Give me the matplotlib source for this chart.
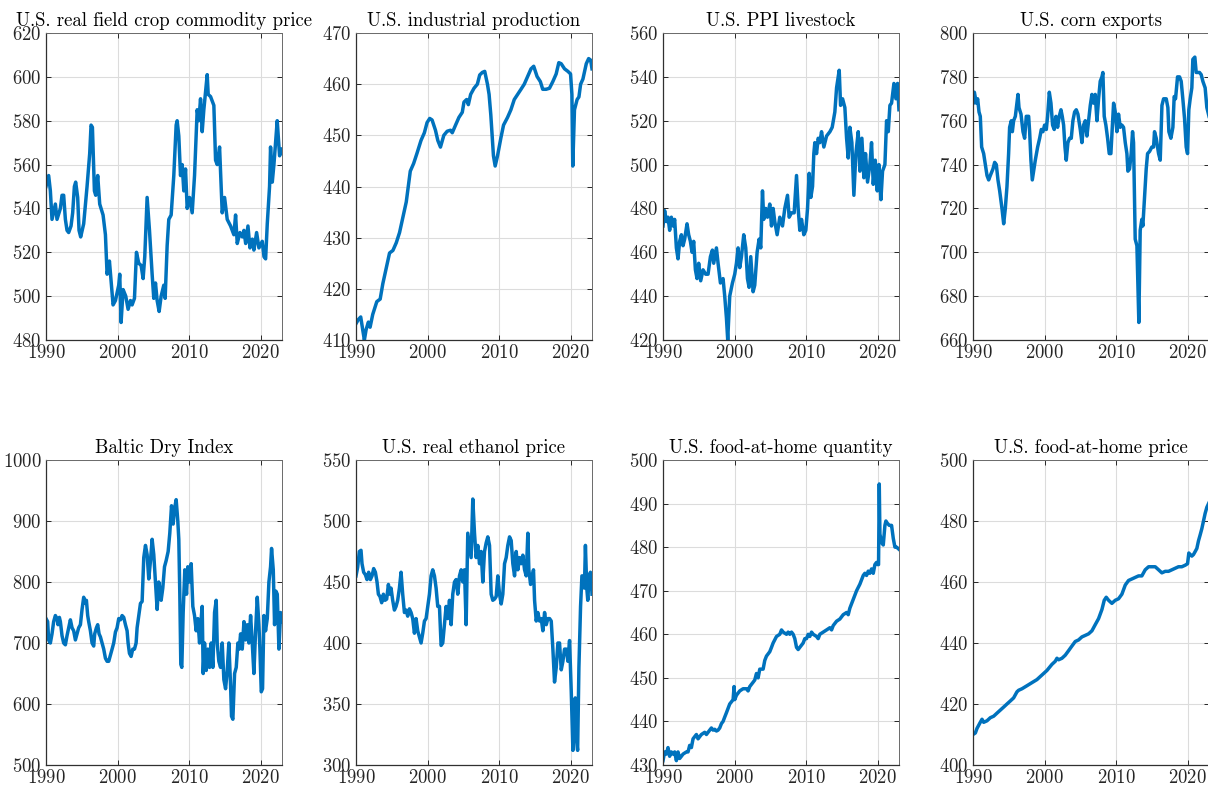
import matplotlib
matplotlib.use("Agg")
import matplotlib.pyplot as plt
import numpy as np

plt.rcParams["font.family"] = ["cmr10", "DejaVu Serif"]
plt.rcParams["axes.formatter.use_mathtext"] = True
plt.rcParams["mathtext.fontset"] = "cm"

# ---- data: (decimal year, index level) ----
crop_price = [
    (1990.0, 550), (1990.37, 555), (1990.61, 548), (1990.84, 535), (1991.31, 542), (1991.54, 535),
    (1992.01, 540), (1992.24, 546), (1992.47, 546), (1992.71, 535), (1992.94, 530), (1993.17, 529),
    (1993.50, 532), (1993.73, 538), (1993.97, 550), (1994.15, 552), (1994.43, 545), (1994.62, 530),
    (1994.85, 527), (1995.27, 533), (1995.74, 550), (1996.11, 565), (1996.30, 578), (1996.49, 577),
    (1996.77, 548), (1996.95, 546), (1997.23, 555), (1997.51, 542), (1997.98, 537), (1998.31, 528),
    (1998.54, 510), (1998.87, 516), (1999.15, 505), (1999.38, 496), (1999.71, 498), (2000.17, 505),
    (2000.31, 510), (2000.50, 488), (2000.78, 503), (2001.15, 500), (2001.48, 494), (2001.81, 498),
    (2002.04, 496), (2002.37, 499), (2002.65, 520), (2002.97, 515), (2003.30, 514), (2003.58, 508),
    (2003.81, 518), (2004.14, 545), (2004.47, 530), (2004.84, 510), (2005.07, 499), (2005.31, 506),
    (2005.54, 498), (2005.82, 493), (2006.10, 500), (2006.47, 505), (2006.66, 499), (2006.94, 523),
    (2007.17, 535), (2007.50, 537), (2007.87, 555), (2008.20, 578), (2008.34, 580), (2008.57, 573),
    (2008.81, 555), (2009.04, 560), (2009.27, 548), (2009.51, 558), (2009.74, 540), (2010.07, 545),
    (2010.44, 538), (2010.77, 555), (2011.14, 585), (2011.37, 580), (2011.61, 590), (2011.84, 575),
    (2012.07, 585), (2012.54, 601), (2012.68, 592), (2013.01, 591), (2013.47, 587), (2013.71, 562),
    (2013.94, 560), (2014.27, 568), (2014.64, 538), (2014.97, 545), (2015.34, 535), (2015.81, 532),
    (2016.27, 528), (2016.51, 537), (2016.74, 524), (2017.12, 529), (2017.45, 527), (2017.68, 530),
    (2017.92, 524), (2018.24, 532), (2018.52, 522), (2018.85, 526), (2019.07, 521), (2019.45, 529),
    (2019.77, 522), (2020.24, 525), (2020.48, 518), (2020.71, 517), (2020.94, 533), (2021.26, 550),
    (2021.40, 568), (2021.64, 552), (2021.87, 560), (2022.10, 570), (2022.33, 580), (2022.66, 564),
    (2023.0, 567),
]

industrial = [
    (1990.0, 413.2), (1990.33, 414), (1990.66, 414.5), (1990.94, 412), (1991.17, 410), (1991.41, 412),
    (1991.73, 413.5), (1991.97, 412.5), (1992.34, 415), (1992.91, 417.5), (1993.38, 418), (1993.75, 421),
    (1994.22, 424), (1994.69, 427), (1995.16, 427.5), (1995.63, 429), (1996.09, 431), (1996.56, 434),
    (1997.03, 437), (1997.59, 443), (1998.06, 444.5), (1998.53, 446.5), (1999.09, 449), (1999.56, 450.5),
    (1999.94, 452.5), (2000.31, 453.3), (2000.64, 453), (2001.11, 451), (2001.44, 449), (2001.81, 447.7),
    (2002.28, 450), (2002.75, 450.8), (2003.22, 451), (2003.46, 450.5), (2003.92, 452), (2004.39, 453.5),
    (2004.86, 454.5), (2005.10, 456.5), (2005.47, 457), (2005.71, 456), (2006.03, 458), (2006.50, 459.2),
    (2006.97, 460), (2007.30, 461.8), (2007.67, 462.3), (2008.00, 462.5), (2008.38, 460), (2008.61, 458),
    (2008.85, 454), (2009.22, 446), (2009.46, 444), (2009.79, 446), (2010.26, 449.5), (2010.63, 452),
    (2011.19, 453.5), (2011.66, 455), (2012.13, 457), (2012.60, 458), (2013.07, 459), (2013.53, 460),
    (2014.00, 461.5), (2014.47, 463), (2014.85, 463.5), (2015.32, 461.5), (2015.78, 460.5), (2016.11, 459),
    (2016.58, 459), (2017.05, 459.2), (2017.52, 460.5), (2017.99, 462), (2018.36, 464.2), (2018.69, 464),
    (2019.16, 463), (2019.63, 462.5), (2020.00, 462), (2020.19, 458), (2020.31, 444), (2020.55, 455),
    (2020.92, 457), (2021.17, 457.5), (2021.41, 460), (2021.73, 461), (2022.20, 464), (2022.53, 465),
    (2022.81, 464.7), (2023.0, 463),
]

ppi_livestock = [
    (1990.0, 472), (1990.23, 479), (1990.47, 474), (1990.70, 476), (1990.93, 470), (1991.17, 476),
    (1991.40, 472), (1991.63, 475), (1991.87, 462), (1992.10, 457), (1992.33, 465), (1992.57, 468),
    (1992.80, 463), (1993.03, 466), (1993.36, 473), (1993.59, 468), (1993.83, 465), (1994.06, 460),
    (1994.29, 465), (1994.53, 452), (1994.76, 448), (1994.99, 455), (1995.27, 447), (1995.60, 452),
    (1995.97, 450), (1996.30, 450), (1996.63, 458), (1996.91, 461), (1997.09, 455), (1997.47, 462),
    (1997.70, 455), (1998.03, 446), (1998.40, 448), (1998.63, 440), (1998.87, 430), (1999.05, 420),
    (1999.33, 440), (1999.71, 446), (2000.03, 450), (2000.27, 455), (2000.50, 462), (2000.73, 453),
    (2000.97, 458), (2001.29, 468), (2001.57, 462), (2001.81, 448), (2002.04, 444), (2002.27, 458),
    (2002.60, 442), (2002.83, 445), (2003.16, 460), (2003.44, 466), (2003.67, 462), (2003.91, 488),
    (2004.09, 475), (2004.37, 480), (2004.61, 476), (2004.93, 482), (2005.17, 472), (2005.40, 480),
    (2005.63, 474), (2005.96, 468), (2006.33, 476), (2006.71, 472), (2007.03, 480), (2007.41, 486),
    (2007.64, 476), (2007.97, 478), (2008.34, 478), (2008.67, 495), (2008.90, 480), (2009.13, 470),
    (2009.37, 475), (2009.69, 468), (2009.97, 470), (2010.21, 480), (2010.44, 496), (2010.67, 485),
    (2010.91, 490), (2011.09, 505), (2011.23, 510), (2011.47, 505), (2011.70, 512), (2011.93, 510),
    (2012.17, 515), (2012.49, 508), (2012.87, 513), (2013.34, 515), (2013.66, 517), (2014.03, 524),
    (2014.27, 535), (2014.50, 540), (2014.64, 543), (2014.83, 527), (2015.11, 530), (2015.43, 526),
    (2015.67, 512), (2015.90, 503), (2016.13, 517), (2016.41, 510), (2016.69, 486), (2016.97, 505),
    (2017.30, 515), (2017.53, 497), (2017.81, 512), (2018.09, 494), (2018.32, 505), (2018.60, 492),
    (2018.93, 500), (2019.16, 510), (2019.40, 491), (2019.68, 502), (2019.96, 488), (2020.19, 500),
    (2020.47, 484), (2020.70, 497), (2021.03, 500), (2021.26, 520), (2021.50, 515), (2021.73, 527),
    (2021.96, 528), (2022.29, 537), (2022.57, 530), (2022.80, 537), (2022.99, 525),
]

corn_exports = [
    (1990.0, 768), (1990.19, 773), (1990.47, 768), (1990.65, 770), (1990.84, 764), (1991.02, 762),
    (1991.21, 748), (1991.49, 745), (1991.72, 740), (1991.96, 735), (1992.19, 733), (1992.42, 735),
    (1992.79, 738), (1993.03, 741), (1993.26, 740), (1993.49, 733), (1993.73, 728), (1994.05, 720),
    (1994.29, 713), (1994.52, 720), (1994.75, 730), (1994.98, 745), (1995.12, 757), (1995.36, 760),
    (1995.50, 755), (1995.68, 760), (1995.92, 762), (1996.15, 768), (1996.29, 772), (1996.43, 766),
    (1996.71, 763), (1996.99, 755), (1997.22, 752), (1997.45, 762), (1997.78, 762), (1997.92, 755),
    (1998.10, 742), (1998.29, 733), (1998.48, 737), (1998.71, 742), (1999.04, 748), (1999.32, 752),
    (1999.55, 756), (1999.78, 755), (2000.01, 758), (2000.25, 756), (2000.43, 762), (2000.67, 773),
    (2000.90, 768), (2001.13, 758), (2001.36, 756), (2001.60, 762), (2001.83, 757), (2002.06, 762),
    (2002.30, 765), (2002.48, 762), (2002.67, 758), (2002.86, 748), (2003.04, 742), (2003.27, 750),
    (2003.51, 752), (2003.74, 752), (2003.97, 760), (2004.21, 764), (2004.44, 765), (2004.67, 763),
    (2005.00, 756), (2005.23, 750), (2005.46, 758), (2005.70, 760), (2005.93, 753), (2006.16, 760),
    (2006.40, 767), (2006.63, 772), (2006.86, 768), (2007.09, 772), (2007.33, 760), (2007.56, 770),
    (2007.79, 778), (2008.03, 780), (2008.16, 782), (2008.35, 762), (2008.58, 758), (2008.82, 752),
    (2009.05, 745), (2009.28, 745), (2009.52, 760), (2009.66, 768), (2009.89, 764), (2010.12, 755),
    (2010.35, 763), (2010.59, 757), (2010.82, 758), (2011.05, 757), (2011.29, 750), (2011.52, 745),
    (2011.66, 737), (2011.89, 738), (2012.12, 745), (2012.31, 755), (2012.45, 750), (2012.68, 706),
    (2012.92, 703), (2013.06, 685), (2013.19, 668), (2013.38, 710), (2013.61, 715), (2013.75, 712),
    (2013.99, 725), (2014.22, 738), (2014.41, 745), (2014.69, 746), (2015.01, 748), (2015.25, 748),
    (2015.38, 755), (2015.62, 752), (2015.95, 745), (2016.18, 742), (2016.42, 767), (2016.65, 770),
    (2017.02, 770), (2017.25, 766), (2017.39, 755), (2017.67, 752), (2017.95, 757), (2018.13, 771),
    (2018.32, 770), (2018.60, 780), (2018.88, 780), (2019.11, 778), (2019.34, 770), (2019.58, 761),
    (2019.81, 748), (2020.00, 745), (2020.18, 765), (2020.37, 770), (2020.60, 775), (2020.74, 788),
    (2021.02, 789), (2021.21, 782), (2021.44, 782), (2021.67, 782), (2021.91, 781), (2022.14, 778),
    (2022.46, 775), (2022.70, 766), (2023.0, 762),
]

baltic_dry = [
    (1990.0, 740), (1990.23, 735), (1990.37, 705), (1990.61, 700), (1990.84, 715), (1991.07, 735),
    (1991.31, 745), (1991.54, 740), (1991.68, 730), (1991.87, 742), (1992.01, 735), (1992.24, 712),
    (1992.47, 700), (1992.71, 697), (1992.94, 712), (1993.17, 725), (1993.41, 738), (1993.64, 725),
    (1993.87, 720), (1994.11, 705), (1994.34, 715), (1994.57, 725), (1994.81, 730), (1995.04, 755),
    (1995.27, 775), (1995.51, 765), (1995.65, 770), (1995.83, 745), (1995.97, 735), (1996.21, 720),
    (1996.44, 700), (1996.67, 695), (1996.81, 715), (1997.05, 725), (1997.23, 730), (1997.42, 715),
    (1997.61, 710), (1997.84, 700), (1998.07, 690), (1998.31, 675), (1998.54, 670), (1998.77, 670),
    (1999.01, 680), (1999.24, 690), (1999.47, 700), (1999.71, 718), (1999.94, 725), (2000.17, 740),
    (2000.41, 738), (2000.64, 745), (2000.87, 742), (2001.11, 730), (2001.34, 720), (2001.48, 700),
    (2001.67, 683), (2001.90, 678), (2002.13, 690), (2002.37, 690), (2002.60, 700), (2002.74, 725),
    (2002.97, 745), (2003.21, 765), (2003.44, 768), (2003.67, 840), (2003.91, 860), (2004.14, 845),
    (2004.37, 805), (2004.61, 835), (2004.84, 870), (2005.07, 845), (2005.31, 800), (2005.54, 755),
    (2005.77, 800), (2005.91, 790), (2006.10, 770), (2006.33, 790), (2006.57, 825), (2006.80, 835),
    (2007.08, 850), (2007.31, 880), (2007.55, 925), (2007.78, 895), (2007.97, 920), (2008.20, 935),
    (2008.43, 900), (2008.57, 870), (2008.71, 780), (2008.85, 665), (2008.99, 660), (2009.18, 750),
    (2009.41, 820), (2009.65, 780), (2009.83, 825), (2010.07, 800), (2010.30, 830), (2010.53, 760),
    (2010.77, 745), (2011.00, 720), (2011.23, 740), (2011.47, 700), (2011.70, 740), (2011.84, 760),
    (2011.98, 650), (2012.17, 700), (2012.40, 655), (2012.63, 690), (2012.87, 660), (2013.10, 700),
    (2013.33, 660), (2013.57, 750), (2013.80, 770), (2013.94, 700), (2014.17, 670), (2014.41, 660),
    (2014.64, 700), (2014.87, 640), (2015.11, 625), (2015.34, 655), (2015.57, 700), (2015.81, 630),
    (2015.94, 580), (2016.13, 575), (2016.37, 650), (2016.60, 660), (2016.83, 700), (2017.02, 690),
    (2017.21, 715), (2017.44, 690), (2017.68, 735), (2017.91, 705), (2018.14, 730), (2018.37, 700),
    (2018.61, 745), (2018.84, 700), (2019.07, 650), (2019.31, 720), (2019.54, 775), (2019.77, 730),
    (2019.91, 690), (2020.10, 620), (2020.28, 625), (2020.47, 745), (2020.70, 720), (2020.94, 740),
    (2021.17, 800), (2021.40, 825), (2021.54, 855), (2021.78, 820), (2021.96, 730), (2022.15, 785),
    (2022.34, 780), (2022.57, 690), (2022.80, 750), (2023.0, 735),
]

ethanol_price = [
    (1990.0, 455), (1990.23, 462), (1990.47, 475), (1990.70, 476), (1990.84, 465), (1991.07, 458),
    (1991.31, 456), (1991.54, 452), (1991.77, 458), (1992.01, 452), (1992.24, 455), (1992.47, 461),
    (1992.71, 458), (1992.94, 450), (1993.13, 440), (1993.36, 438), (1993.59, 433), (1993.83, 440),
    (1994.06, 435), (1994.29, 436), (1994.53, 448), (1994.71, 440), (1994.90, 445), (1995.13, 435),
    (1995.37, 427), (1995.60, 430), (1995.83, 435), (1996.07, 445), (1996.30, 458), (1996.53, 440),
    (1996.77, 425), (1997.00, 427), (1997.23, 422), (1997.47, 428), (1997.70, 425), (1997.93, 420),
    (1998.17, 408), (1998.40, 420), (1998.63, 410), (1998.87, 405), (1999.10, 400), (1999.33, 408),
    (1999.57, 418), (1999.80, 420), (2000.03, 430), (2000.27, 440), (2000.50, 455), (2000.73, 460),
    (2000.97, 455), (2001.20, 445), (2001.43, 430), (2001.67, 430), (2001.90, 398), (2002.13, 400),
    (2002.37, 415), (2002.60, 430), (2002.83, 420), (2003.07, 435), (2003.30, 415), (2003.53, 440),
    (2003.77, 450), (2004.00, 452), (2004.23, 440), (2004.47, 455), (2004.70, 460), (2004.93, 450),
    (2005.17, 460), (2005.40, 415), (2005.63, 490), (2005.87, 480), (2006.10, 470), (2006.33, 518),
    (2006.57, 490), (2006.80, 470), (2007.03, 480), (2007.27, 465), (2007.50, 475), (2007.73, 450),
    (2007.97, 475), (2008.20, 482), (2008.43, 487), (2008.67, 480), (2008.90, 440), (2009.13, 435),
    (2009.37, 436), (2009.60, 438), (2009.83, 455), (2010.07, 440), (2010.30, 432), (2010.53, 440),
    (2010.77, 465), (2011.00, 470), (2011.23, 480), (2011.47, 487), (2011.70, 484), (2011.93, 465),
    (2012.17, 455), (2012.40, 475), (2012.63, 460), (2012.87, 470), (2013.10, 465), (2013.33, 472),
    (2013.57, 460), (2013.80, 455), (2014.03, 490), (2014.17, 460), (2014.41, 448), (2014.64, 455),
    (2014.82, 460), (2014.97, 435), (2015.20, 418), (2015.43, 425), (2015.67, 418), (2015.90, 420),
    (2016.13, 410), (2016.37, 425), (2016.60, 415), (2016.83, 420), (2017.07, 420), (2017.30, 418),
    (2017.53, 395), (2017.76, 368), (2018.00, 380), (2018.23, 400), (2018.46, 400), (2018.70, 378),
    (2018.93, 385), (2019.16, 395), (2019.40, 395), (2019.63, 385), (2019.86, 402), (2020.10, 360),
    (2020.33, 312), (2020.47, 350), (2020.66, 355), (2020.84, 320), (2020.99, 312), (2021.17, 380),
    (2021.40, 430), (2021.59, 455), (2021.80, 455), (2021.94, 445), (2022.08, 480), (2022.27, 445),
    (2022.41, 435), (2022.60, 455), (2022.78, 458), (2022.92, 450), (2023.0, 440),
]

food_quantity = [
    (1990.0, 431), (1990.23, 433), (1990.47, 432.5), (1990.70, 434), (1990.93, 432), (1991.17, 433),
    (1991.40, 432.5), (1991.63, 433), (1991.87, 431), (1992.10, 433), (1992.33, 431.5), (1992.57, 432),
    (1992.80, 432.5), (1993.27, 433), (1993.50, 433), (1993.73, 434.5), (1993.97, 434), (1994.20, 436),
    (1994.43, 436.5), (1994.67, 437), (1994.90, 436), (1995.13, 436.5), (1995.37, 437), (1995.83, 437.5),
    (1996.07, 437), (1996.53, 438), (1996.77, 438.5), (1997.00, 438), (1997.23, 438.2), (1997.47, 437.8),
    (1997.70, 438), (1997.93, 438.5), (1998.17, 439.5), (1998.40, 440), (1998.63, 441), (1998.87, 442),
    (1999.10, 443), (1999.33, 444), (1999.57, 444.5), (1999.80, 445), (1999.94, 448), (2000.03, 445),
    (2000.27, 446), (2000.50, 446.5), (2000.73, 447), (2001.20, 447.5), (2001.67, 447.5), (2001.90, 447),
    (2002.13, 448), (2002.60, 449), (2002.83, 449.5), (2003.07, 451), (2003.30, 450), (2003.53, 452),
    (2004.00, 452), (2004.23, 454), (2004.47, 455), (2004.93, 456), (2005.17, 457), (2005.40, 458),
    (2005.87, 459.5), (2006.33, 460), (2006.57, 461), (2006.80, 460.5), (2007.27, 460), (2007.50, 460.5),
    (2007.73, 460), (2007.97, 460.5), (2008.20, 460), (2008.43, 459), (2008.67, 457), (2008.90, 456.5),
    (2009.13, 457), (2009.60, 458), (2009.83, 459), (2010.07, 459), (2010.30, 460), (2010.53, 459.5),
    (2010.77, 460.5), (2011.00, 460), (2011.47, 459.5), (2011.70, 459), (2011.93, 460), (2012.40, 460.5),
    (2012.87, 461), (2013.33, 461.5), (2013.57, 461), (2013.80, 462), (2014.27, 463), (2014.73, 463.5),
    (2015.20, 464.5), (2015.67, 465), (2015.90, 464.5), (2016.13, 466), (2016.60, 468), (2017.07, 470),
    (2017.53, 471.5), (2018.00, 473.5), (2018.23, 474), (2018.46, 473.5), (2018.70, 474.5), (2018.93, 474),
    (2019.16, 475), (2019.40, 474), (2019.63, 476), (2019.86, 476.5), (2020.00, 476), (2020.14, 476),
    (2020.24, 494.5), (2020.33, 483), (2020.57, 481), (2020.80, 480.5), (2021.03, 485), (2021.17, 486),
    (2021.36, 485.5), (2021.64, 485), (2021.96, 485), (2022.20, 482), (2022.43, 480), (2022.66, 480),
    (2023.0, 479.5),
]

food_price = [
    (1990.0, 410), (1990.33, 410.5), (1990.56, 412), (1991.02, 414), (1991.26, 415), (1991.49, 414),
    (1991.96, 414.5), (1992.42, 415.5), (1992.89, 416), (1993.35, 417), (1993.82, 418), (1994.29, 419),
    (1994.75, 420), (1995.22, 421), (1995.68, 422), (1996.15, 424), (1996.38, 424.5), (1996.85, 425),
    (1997.55, 426), (1998.24, 427), (1998.94, 428), (1999.64, 429.5), (2000.34, 431), (2001.04, 433),
    (2001.50, 434), (2001.74, 435), (2001.97, 434.5), (2002.44, 435), (2002.90, 436), (2003.37, 437.5),
    (2003.83, 439), (2004.30, 440.5), (2004.76, 441), (2005.23, 442), (2005.70, 442.5), (2006.16, 443),
    (2006.63, 444), (2007.09, 446), (2007.56, 448), (2008.03, 451), (2008.35, 454), (2008.63, 455),
    (2008.96, 454), (2009.42, 453), (2009.89, 454), (2010.35, 454.5), (2010.82, 456), (2011.29, 459),
    (2011.75, 460.5), (2012.22, 461), (2012.68, 461.5), (2013.15, 462), (2013.61, 462), (2014.08, 464),
    (2014.55, 465), (2015.01, 465), (2015.48, 465), (2015.95, 464), (2016.41, 463), (2016.88, 463.5),
    (2017.34, 463.5), (2017.81, 464), (2018.27, 464.5), (2018.74, 465), (2019.20, 465), (2019.67, 465.5),
    (2020.00, 466), (2020.18, 469.5), (2020.37, 469), (2020.60, 468.5), (2020.83, 469), (2021.07, 470),
    (2021.30, 471), (2021.53, 473.5), (2021.77, 475.5), (2022.00, 477.5), (2022.23, 480), (2022.46, 482.5),
    (2022.70, 484.5), (2023.0, 486),
]

titles = [
    "U.S. real field crop commodity price", "U.S. industrial production",
    "U.S. PPI livestock", "U.S. corn exports",
    "Baltic Dry Index", "U.S. real ethanol price",
    "U.S. food-at-home quantity", "U.S. food-at-home price",
]
series = [crop_price, industrial, ppi_livestock, corn_exports,
          baltic_dry, ethanol_price, food_quantity, food_price]
y_limits = [(480, 620), (410, 470), (420, 560), (660, 800),
            (500, 1000), (300, 550), (430, 500), (400, 500)]
y_steps = [20, 10, 20, 20, 100, 50, 10, 20]
x_ticks = [1990, 2000, 2010, 2020]

line_color = "#0072BD"
text_color = "#262626"

fig = plt.figure(figsize=(12.08, 7.87), dpi=100)

W, H = 1208.0, 787.0
col_left = [46, 356, 663, 973]
ax_w = 236
rows = [(33, 340), (460, 765)]

for i, (title, data) in enumerate(zip(titles, series)):
    r, c = divmod(i, 4)
    top, bottom = rows[r]
    ax = fig.add_axes([col_left[c] / W, 1 - bottom / H, ax_w / W, (bottom - top) / H])
    t = [p[0] for p in data]
    v = [p[1] for p in data]
    ax.plot(t, v, color=line_color, linewidth=2.5, solid_joinstyle="round")
    lo, hi = y_limits[i]
    ax.set_xlim(1990, 2023)
    ax.set_ylim(lo, hi)
    ax.set_xticks(x_ticks)
    ax.set_yticks(np.arange(lo, hi + 0.1, y_steps[i]))
    ax.grid(True, color="#dcdcdc", linewidth=0.8)
    ax.set_axisbelow(True)
    ax.tick_params(direction="in", top=True, right=True, length=3.5, width=0.7,
                   colors=text_color, labelsize=13.5, pad=3)
    for side in ["left", "bottom"]:
        ax.spines[side].set_color("#303030")
        ax.spines[side].set_linewidth(0.9)
    for side in ["top", "right"]:
        ax.spines[side].set_color("#6a6a6a")
        ax.spines[side].set_linewidth(0.7)
    ax.set_title(title, fontsize=13.5, color="black", pad=5)

fig.savefig("out.png", dpi=100, facecolor="white")
